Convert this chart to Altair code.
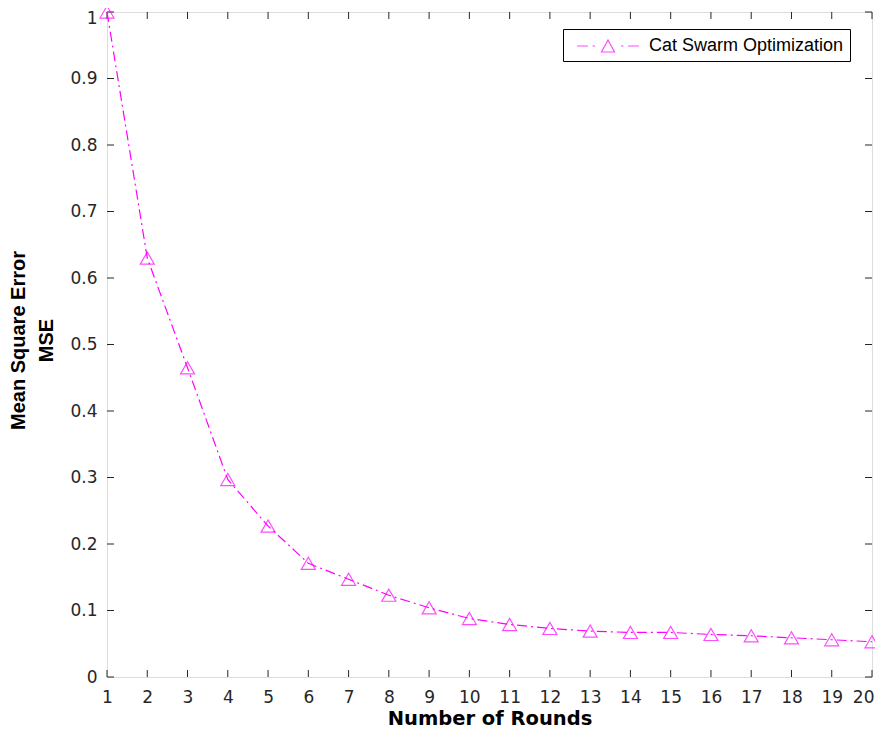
import altair as alt
import pandas as pd

# ---- data ----
rounds = list(range(1, 21))
mse = [1.000, 0.630, 0.465, 0.297, 0.227, 0.171, 0.147, 0.123, 0.104, 0.088,
       0.079, 0.073, 0.069, 0.067, 0.067, 0.064, 0.062, 0.059, 0.056, 0.053]
series_name = "Cat Swarm Optimization"
x_ticks = list(range(1, 21))
y_ticks = [0, 0.1, 0.2, 0.3, 0.4, 0.5, 0.6, 0.7, 0.8, 0.9, 1.0]

df = pd.DataFrame({"round": rounds, "mse": mse, "series": [series_name] * len(rounds)})
xt = pd.DataFrame({"t": x_ticks})
yt = pd.DataFrame({"t": y_ticks})

W, H = 765, 665
TICK = 7
MAG = "#FF00FF"
AX = "#262626"
FONT = "Liberation Sans"
TFONT = "DejaVu Sans"

xscale = alt.Scale(domain=[1, 20], nice=False, zero=False)
yscale = alt.Scale(domain=[0, 1], nice=False)

legend_path = ("M-3.1,0H-2.0M-1.55,0H-1.3M1.3,0H1.55M2.0,0H3.1"
               "M0,-0.6L0.65,0.6L-0.65,0.6Z")

color = alt.Color(
    "series:N",
    scale=alt.Scale(range=[MAG]),
    legend=alt.Legend(
        title=None, orient="none", legendX=456, legendY=17,
        symbolType=legend_path, symbolSize=400, symbolStrokeWidth=1.2,
        symbolFillColor="transparent", symbolStrokeColor=MAG,
        symbolOffset=28, labelOffset=30, labelLimit=400,
        labelFont=FONT, labelFontSize=18, labelColor="black",
        padding=6, strokeColor="black", fillColor="white",
        cornerRadius=0,
    ),
)

x_enc = alt.X(
    "round:Q", scale=xscale,
    axis=alt.Axis(values=x_ticks, title="Number of Rounds", tickSize=0, domain=False,
                  grid=False, labelPadding=12, labelFlush=False, labelFont=TFONT,
                  labelFontSize=17, labelColor=AX,
                  labelAlign={"expr": "datum.value == 20 ? 'right' : 'center'"},
                  labelOffset={"expr": "datum.value == 20 ? 2 : 0"},
                  titleFont=TFONT, titleFontSize=19.5, titleFontWeight="bold",
                  titleColor="black", titleBaseline="alphabetic", titleY=47,
                  format="d"),
)
y_enc = alt.Y(
    "mse:Q", scale=yscale,
    axis=alt.Axis(values=y_ticks, title=["Mean Square Error", "MSE"], tickSize=0,
                  domain=False, grid=False, labelPadding=10, labelFlush=False,
                  labelFont=TFONT, labelFontSize=17, labelColor=AX,
                  labelBaseline={"expr": "datum.value == 1 ? 'top' : 'middle'"},
                  labelOffset={"expr": "datum.value == 1 ? -2 : 0"},
                  titleFont=FONT, titleFontSize=20, titleFontWeight="bold",
                  titleColor="black", titleBaseline="alphabetic",
                  titleX=-83, titleY=328, titleLineHeight=28.3,
                  format="~g"),
)

line = alt.Chart(df).mark_line(strokeWidth=1.2, strokeDash=[10, 4, 2, 4]).encode(
    x=x_enc, y=y_enc, color=color
)
pts = alt.Chart(df).mark_point(shape="triangle-up", size=196, filled=False,
                               strokeWidth=1.2).encode(
    x=alt.X("round:Q", scale=xscale), y=alt.Y("mse:Q", scale=yscale), color=color
)

tb = alt.Chart(xt).mark_rule(color=AX, strokeWidth=1).encode(
    x=alt.X("t:Q", scale=xscale), y=alt.value(H), y2=alt.value(H - TICK))
tt = alt.Chart(xt).mark_rule(color=AX, strokeWidth=1).encode(
    x=alt.X("t:Q", scale=xscale), y=alt.value(0), y2=alt.value(TICK))
tl = alt.Chart(yt).mark_rule(color=AX, strokeWidth=1).encode(
    y=alt.Y("t:Q", scale=yscale), x=alt.value(0), x2=alt.value(TICK))
tr = alt.Chart(yt).mark_rule(color=AX, strokeWidth=1).encode(
    y=alt.Y("t:Q", scale=yscale), x=alt.value(W), x2=alt.value(W - TICK))

chart = alt.layer(tb, tt, tl, tr, line, pts).properties(
    width=W, height=H,
    autosize=alt.AutoSizeParams(type="none"),
    padding={"left": 99, "top": 4, "right": 3, "bottom": 52},
).configure_view(stroke=AX, strokeWidth=1.5).configure(background="white")

chart.save("out.html", embed_options={"renderer": "svg", "actions": False})
